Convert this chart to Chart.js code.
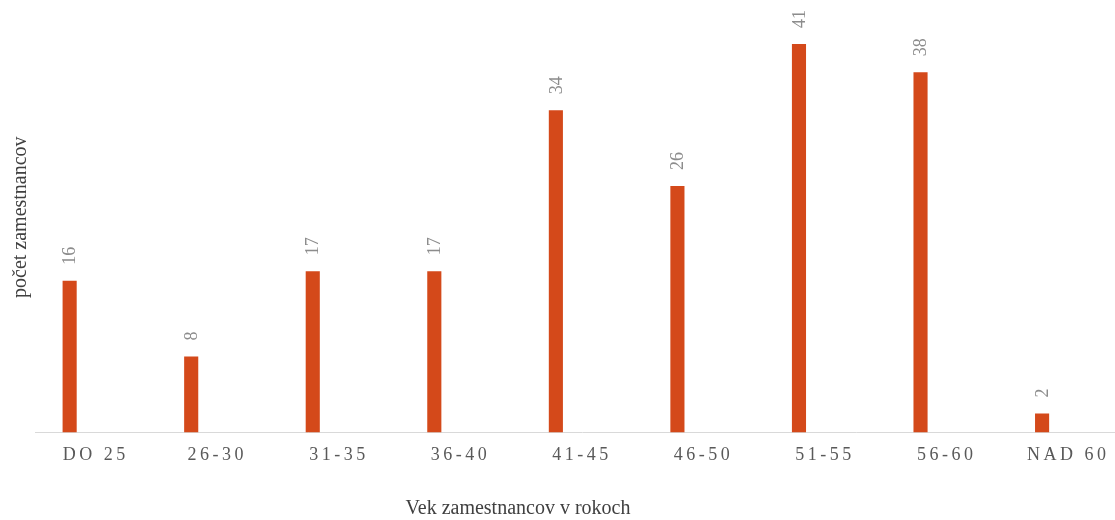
<!DOCTYPE html>
<html>
<head>
<meta charset="utf-8">
<script src="https://cdn.jsdelivr.net/npm/chart.js@4/dist/chart.umd.min.js"></script>
<style>
  html, body { margin: 0; padding: 0; background: #fff; overflow: hidden; }
  #wrap { position: relative; width: 1130px; height: 520px; }
</style>
</head>
<body>
<div id="wrap"><canvas id="chart"></canvas></div>
<script>
// Age groups and employee counts.
var categories = ['DO 25', '26-30', '31-35', '36-40', '41-45', '46-50', '51-55', '56-60', 'NAD 60'];
var employees = [16, 8, 17, 17, 34, 26, 41, 38, 2];
var yMax = 45;

var FONT = '"Liberation Serif", "DejaVu Serif", serif';

// Letter-spaced tick labels; reset before anything else is written.
var spacingPlugin = {
  id: 'spacing',
  beforeDraw: function (chart) { chart.ctx.letterSpacing = '3.5px'; },
  afterDraw: function (chart) { chart.ctx.letterSpacing = '0px'; }
};

// Rotated value labels above each bar, plus both axis titles.
var labelsPlugin = {
  id: 'valueLabels',
  afterDatasetsDraw: function (chart) {
    var ctx = chart.ctx;
    var meta = chart.getDatasetMeta(0);
    var area = chart.chartArea;
    ctx.save();
    ctx.letterSpacing = '0px';
    ctx.fillStyle = '#8c8c8c';
    ctx.font = '18px ' + FONT;
    ctx.textAlign = 'left';
    ctx.textBaseline = 'middle';
    meta.data.forEach(function (bar, i) {
      ctx.save();
      ctx.translate(bar.x, bar.y - 16);
      ctx.rotate(-Math.PI / 2);
      ctx.fillText(String(employees[i]), 0, 1);
      ctx.restore();
    });

    ctx.fillStyle = '#404040';
    ctx.font = '20px ' + FONT;
    ctx.textAlign = 'center';
    ctx.textBaseline = 'middle';
    ctx.fillText('Vek zamestnancov v rokoch', (area.left + area.right) / 2 - 64, 509);

    ctx.save();
    ctx.translate(21, (area.top + area.bottom) / 2 - 2);
    ctx.rotate(-Math.PI / 2);
    ctx.fillText('počet zamestnancov', 0, 0);
    ctx.restore();
    ctx.restore();
  }
};

new Chart(document.getElementById('chart'), {
  type: 'bar',
  data: {
    labels: categories,
    datasets: [
      {
        label: 'počet zamestnancov',
        data: employees,
        backgroundColor: '#d4491a',
        borderWidth: 0,
        categoryPercentage: 0.86,
        barPercentage: 0.27
      },
      {
        label: '',
        data: [],
        backgroundColor: 'rgba(0,0,0,0)',
        categoryPercentage: 0.86,
        barPercentage: 0.27
      }
    ]
  },
  options: {
    responsive: true,
    maintainAspectRatio: false,
    animation: false,
    layout: { padding: { top: 6, right: 1, bottom: 42, left: 35 } },
    plugins: {
      legend: { display: false },
      tooltip: { enabled: false }
    },
    scales: {
      x: {
        grid: { display: false, drawTicks: false },
        border: { display: true, color: '#d9d9d9', width: 1 },
        ticks: {
          color: '#595959',
          font: { family: FONT, size: 18 },
          padding: 12,
          maxRotation: 0,
          autoSkip: false
        }
      },
      y: {
        display: false,
        min: 0,
        max: yMax
      }
    }
  },
  plugins: [spacingPlugin, labelsPlugin]
});
</script>
</body>
</html>
